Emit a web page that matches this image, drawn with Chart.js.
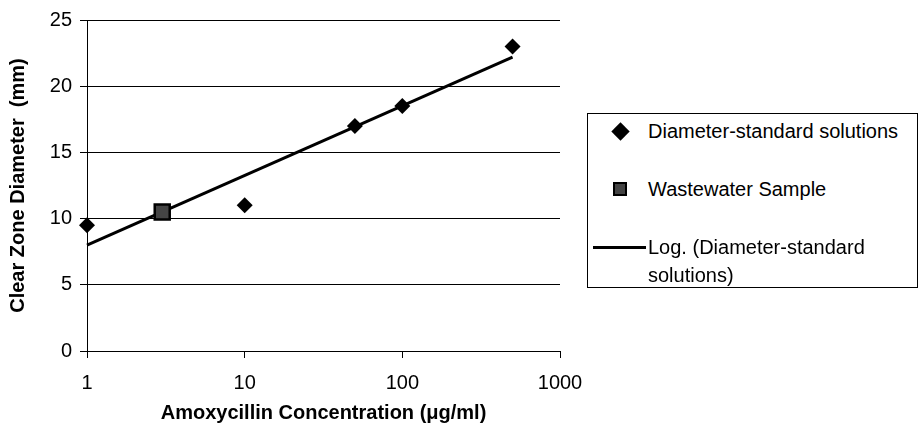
<!DOCTYPE html>
<html>
<head>
<meta charset="utf-8">
<script src="https://cdn.jsdelivr.net/npm/chart.js@4.4.1/dist/chart.umd.min.js"></script>
<style>
  html, body { margin: 0; padding: 0; background: #fff; }
  #wrap { position: relative; width: 921px; height: 440px; font-family: "Liberation Sans", Arial, sans-serif; color: #000; }
  #c { position: absolute; left: 0; top: 0; }
  #legend { position: absolute; left: 587px; top: 113px; width: 329px; height: 173px; border: 1px solid #000; background: #fff; }
  .item { position: absolute; font-size: 20px; line-height: 28px; white-space: nowrap; }
  .mk { position: absolute; }
</style>
</head>
<body>
<div id="wrap">
  <canvas id="c" width="921" height="440"></canvas>
  <div id="legend"></div>
</div>
<script>
// ---- data ----
const xTickValues = [1, 10, 100, 1000];
const stdConc = [1, 10, 50, 100, 500];
const stdDiam = [9.5, 11, 17, 18.5, 23];
const sampleConc = [3];
const sampleDiam = [10.5];
const trendConc = [1, 500];
const trendDiam = [8.0, 22.2];
const seriesNames = ['Diameter-standard solutions', 'Wastewater Sample', 'Log. (Diameter-standard\nsolutions)'];
const xTitle = 'Amoxycillin Concentration (\u03bcg/ml)';
const yTitle = 'Clear Zone Diameter  (mm)';

const toPts = (xs, ys) => xs.map((x, i) => ({ x: x, y: ys[i] }));
const FONT = '"Liberation Sans", Arial, sans-serif';

const chart = new Chart(document.getElementById('c'), {
  type: 'scatter',
  data: {
    datasets: [
      { label: seriesNames[0], data: toPts(stdConc, stdDiam), pointStyle: 'rectRot', pointRadius: 8, pointHoverRadius: 8,
        backgroundColor: '#000', borderColor: '#000', borderWidth: 0, order: 1, clip: false },
      { label: seriesNames[1], data: toPts(sampleConc, sampleDiam), pointStyle: 'rect', pointRadius: 10.6, pointHoverRadius: 10.6,
        backgroundColor: '#444', borderColor: '#000', borderWidth: 2.5, order: 1, clip: false },
      { label: seriesNames[2], type: 'line', data: toPts(trendConc, trendDiam), showLine: true, pointRadius: 0,
        borderColor: '#000', borderWidth: 3, fill: false, order: 3, clip: false }
    ]
  },
  options: {
    responsive: false,
    devicePixelRatio: 1,
    animation: false,
    layout: { padding: { left: 0, top: 19, right: 361, bottom: 0 } },
    plugins: { legend: { display: false }, tooltip: { enabled: false } },
    scales: {
      x: {
        type: 'logarithmic', min: 1, max: 1000,
        afterBuildTicks: (s) => { s.ticks = xTickValues.map(v => ({ value: v })); },
        afterFit: (s) => { s.height = 89; },
        ticks: { color: '#000', font: { family: FONT, size: 20 }, padding: 13, autoSkip: false, maxRotation: 0,
          callback: (v) => String(v) },
        grid: { drawOnChartArea: false, drawTicks: true, tickLength: 7, tickColor: '#000', tickWidth: 1 },
        border: { display: true, color: '#000', width: 1 },
        title: { display: true, text: xTitle, color: '#000', font: { family: FONT, size: 20, weight: 'bold' }, padding: { top: 0, bottom: 15 } }
      },
      y: {
        min: 0, max: 25,
        afterFit: (s) => { s.width = 87; },
        ticks: { stepSize: 5, color: '#000', font: { family: FONT, size: 20 }, padding: 8 },
        grid: { color: '#000', lineWidth: 1, drawTicks: true, tickLength: 7, tickColor: '#000' },
        border: { display: true, color: '#000', width: 1 },
        title: { display: true, text: yTitle, color: '#000', font: { family: FONT, size: 20, weight: 'bold' }, padding: { top: 6, bottom: 0 } }
      }
    }
  }
});

// ---- HTML legend built from the datasets ----
const legend = document.getElementById('legend');
const L = 588; const T = 114; // legend inner origin in page coords
function add(el) { legend.appendChild(el); return el; }
const ds = chart.data.datasets;
const rows = [
  { cy: 131, kind: 'diamond' },
  { cy: 189, kind: 'square' },
  { cy: 247, kind: 'line' }
];
rows.forEach((r, i) => {
  const d = ds[i];
  const mk = document.createElement('div');
  mk.className = 'mk';
  if (r.kind === 'diamond') {
    const s = 13;
    Object.assign(mk.style, { left: (620 - s / 2 - L) + 'px', top: (r.cy - s / 2 - T) + 'px', width: s + 'px', height: s + 'px',
      background: d.backgroundColor, transform: 'rotate(45deg)' });
  } else if (r.kind === 'square') {
    const s = 14;
    Object.assign(mk.style, { left: (620 - s / 2 - L) + 'px', top: (r.cy - s / 2 - T) + 'px', width: (s - 4) + 'px', height: (s - 4) + 'px',
      background: d.backgroundColor, border: '2px solid ' + d.borderColor });
  } else {
    Object.assign(mk.style, { left: (593 - L) + 'px', top: (r.cy - 1.5 - T) + 'px', width: '53px', height: '0px',
      borderTop: d.borderWidth + 'px solid ' + d.borderColor });
  }
  add(mk);
  const lines = d.label.split('\n');
  lines.forEach((t, j) => {
    const tx = document.createElement('div');
    tx.className = 'item';
    tx.textContent = t;
    Object.assign(tx.style, { left: (648 - L) + 'px', top: (r.cy - 14 + j * 28 - T) + 'px' });
    add(tx);
  });
});
</script>
</body>
</html>
